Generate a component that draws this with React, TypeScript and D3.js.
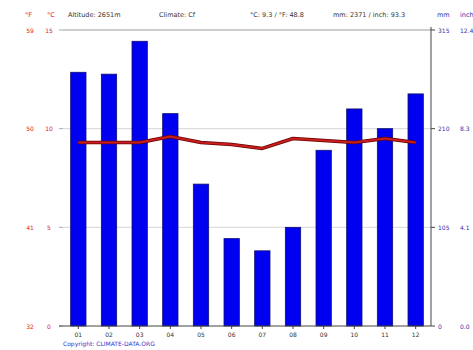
import React from "react";
import * as d3 from "d3";

const months = ["01", "02", "03", "04", "05", "06", "07", "08", "09", "10", "11", "12"];
const precipitation = [270, 268, 303, 226, 151, 93, 80, 105, 187, 231, 210, 247];
const temperature = [9.3, 9.3, 9.3, 9.6, 9.3, 9.2, 9.0, 9.5, 9.4, 9.3, 9.5, 9.3];
const tempTicksC = [0, 5, 10, 15];
const tempTicksF = ["32", "41", "50", "59"];
const precTicksMm = [0, 105, 210, 315];
const precTicksInch = ["0.0", "4.1", "8.3", "12.4"];

const W = 473;
const H = 350;
const left = 63;
const right = 431;
const top = 30;
const bottom = 326;
const FONT = "DejaVu Sans, sans-serif";

export default function App() {
  const x = d3.scaleBand<string>().domain(months).range([left, right]).paddingInner(0.5).paddingOuter(0.25);
  const yP = d3.scaleLinear().domain([0, 315]).range([bottom, top]);
  const yT = d3.scaleLinear().domain([0, 15]).range([bottom, top]);
  const line = d3
    .line<number>()
    .x((_, i) => (x(months[i]) as number) + x.bandwidth() / 2)
    .y((d) => yT(d));

  return (
    <svg
      width={W}
      height={H}
      style={{ position: "absolute", left: 0, top: 0, background: "#fff" }}
      fontFamily={FONT}
    >
      {/* header */}
      <text x={25} y={17} fontSize={6.5} fill="#d22">°F</text>
      <text x={47} y={17} fontSize={6.5} fill="#d22">°C</text>
      <text x={68} y={17} fontSize={6.5} fill="#333">Altitude: 2651m</text>
      <text x={159} y={17} fontSize={6.5} fill="#333">Climate: Cf</text>
      <text x={250} y={17} fontSize={6.5} fill="#333">°C: 9.3 / °F: 48.8</text>
      <text x={333} y={17} fontSize={6.5} fill="#333">mm: 2371 / inch: 93.3</text>
      <text x={437} y={17} fontSize={6.5} fill="#33a">mm</text>
      <text x={460} y={17} fontSize={6.5} fill="#33a">inch</text>

      {/* top line & gridlines */}
      <line x1={left} x2={right} y1={top} y2={top} stroke="#999" strokeWidth={1} />
      {tempTicksC.slice(1, 3).map((t) => (
        <line key={t} x1={left} x2={right} y1={yT(t)} y2={yT(t)} stroke="#ccc" strokeWidth={0.8} />
      ))}

      {/* left ticks & labels */}
      {tempTicksC.map((t, i) => (
        <g key={t}>
          <line x1={left - 4} x2={left} y1={yT(t)} y2={yT(t)} stroke="#aaa" />
          <text x={30} y={yT(t) + 2.5} fontSize={6} fill="#d22" textAnchor="middle">{tempTicksF[i]}</text>
          <text x={49} y={yT(t) + 2.5} fontSize={6} fill="#d22" textAnchor="middle">{t}</text>
        </g>
      ))}

      {/* bars */}
      {precipitation.map((p, i) => (
        <rect
          key={months[i]}
          x={x(months[i])}
          y={yP(p)}
          width={x.bandwidth()}
          height={bottom - yP(p)}
          fill="#0000f0"
          stroke="#101070"
          strokeWidth={0.8}
        />
      ))}

      {/* bottom axis */}
      <line x1={left - 4} x2={right} y1={bottom} y2={bottom} stroke="#444" />
      {months.map((m) => (
        <g key={m}>
          <line
            x1={(x(m) as number) + x.bandwidth() / 2}
            x2={(x(m) as number) + x.bandwidth() / 2}
            y1={bottom}
            y2={bottom + 3}
            stroke="#444"
          />
          <text x={(x(m) as number) + x.bandwidth() / 2} y={337} fontSize={6} fill="#333" textAnchor="middle">{m}</text>
        </g>
      ))}

      {/* right axis */}
      <line x1={right} x2={right} y1={top - 3} y2={bottom} stroke="#444" />
      {precTicksMm.map((p, i) => (
        <g key={p}>
          <line x1={right} x2={right + 4} y1={yP(p)} y2={yP(p)} stroke="#444" />
          <text x={438} y={yP(p) + 2.5} fontSize={6} fill="#33a">{p}</text>
          <text x={460} y={yP(p) + 2.5} fontSize={6} fill="#33a">{precTicksInch[i]}</text>
        </g>
      ))}

      {/* temperature line */}
      <path d={line(temperature) || ""} fill="none" stroke="#6a0000" strokeWidth={3.5} strokeLinejoin="round" />
      <path d={line(temperature) || ""} fill="none" stroke="#c81e1e" strokeWidth={2} strokeLinejoin="round" />

      <text x={63} y={346} fontSize={6} fill="#33c">Copyright: CLIMATE-DATA.ORG</text>
    </svg>
  );
}
